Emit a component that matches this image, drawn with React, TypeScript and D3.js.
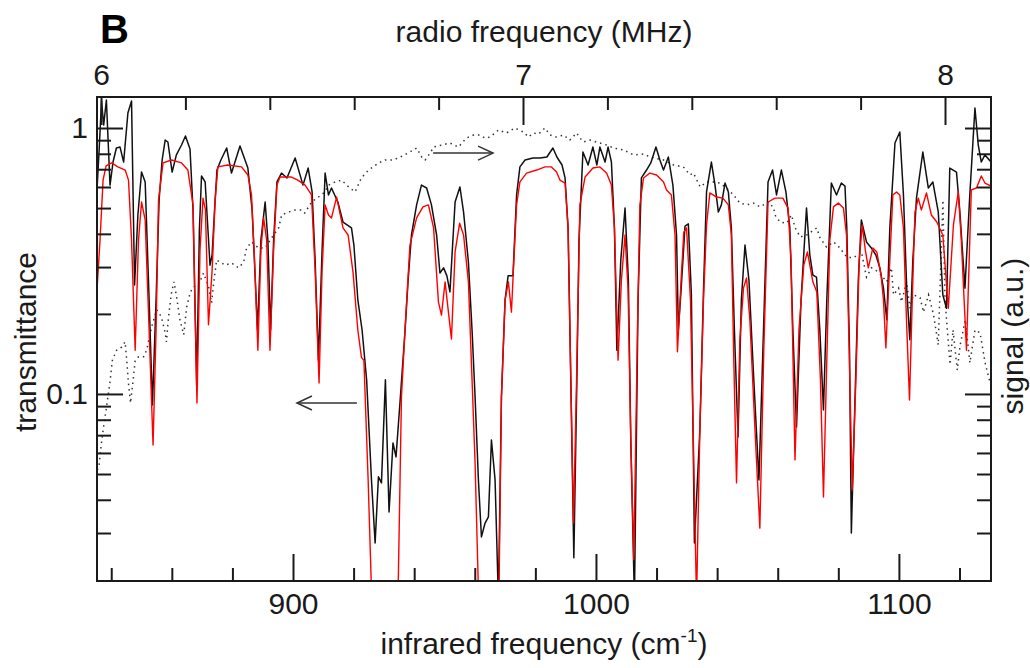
import React, { useRef, useEffect } from 'react';
import * as d3 from 'd3';

// measured transmittance (black): [wavenumber cm^-1, transmittance]
const measured: [number, number][] = [
  [835.3,0.585],[836.0,0.827],[836.8,1.263],[837.5,1.026],[838.4,1.274],[839.6,0.610],[840.6,0.745],[841.7,0.841],[842.9,0.848],[844.1,0.745],
  [845.5,1.139],[846.7,1.263],[847.7,0.257],[848.8,0.471],[850.0,0.683],[851.2,0.627],[852.5,0.226],[853.6,0.0909],[854.8,0.226],[855.8,0.536],
  [856.8,0.758],[857.8,0.901],[858.7,0.886],[860.1,0.683],[861.5,0.792],[863.2,0.863],[864.5,0.933],[866.0,0.834],[867.0,0.492],[868.2,0.108],
  [869.1,0.414],[869.8,0.660],[871.0,0.627],[872.6,0.305],[873.3,0.333],[874.1,0.492],[874.9,0.695],[876.2,0.758],[878.1,0.841],[879.7,0.677],
  [882.5,0.856],[885.1,0.707],[886.5,0.492],[888.3,0.174],[889.4,0.379],[890.8,0.527],[891.7,0.379],[892.6,0.174],[893.6,0.379],[894.7,0.627],
  [896.2,0.677],[898.0,0.649],[900.7,0.771],[903.3,0.610],[905.0,0.707],[906.3,0.575],[907.3,0.319],[908.4,0.134],[909.6,0.348],[910.6,0.677],
  [911.7,0.560],[912.7,0.595],[914.8,0.527],[916.5,0.443],[919.3,0.421],[920.1,0.363],[921.4,0.226],[922.8,0.174],[924.3,0.113],[925.9,0.0475],
  [927.1,0.0275],[928.2,0.0488],[929.2,0.0463],[930.5,0.113],[931.7,0.0360],[933.0,0.0654],[934.0,0.0580],[935.3,0.0925],[937.0,0.174],[938.0,0.268],
  [939.1,0.396],[940.8,0.514],[942.4,0.610],[944.1,0.595],[945.7,0.514],[947.4,0.396],[948.5,0.285],[949.7,0.298],[950.8,0.278],[951.8,0.242],
  [953.5,0.527],[955.1,0.600],[956.3,0.483],[957.9,0.313],[959.1,0.174],[960.1,0.0974],[961.2,0.0475],[962.2,0.0290],[963.4,0.0327],[964.5,0.0345],
  [965.5,0.0671],[966.7,0.0475],[967.8,0.0168],[968.8,0.0974],[970.0,0.226],[971.0,0.278],[972.6,0.278],[973.8,0.560],[974.9,0.714],[976.6,0.758],
  [979.2,0.771],[981.5,0.771],[983.8,0.778],[985.8,0.841],[987.1,0.778],[988.8,0.726],[989.8,0.649],[990.8,0.421],[991.7,0.113],[992.7,0.0242],
  [993.7,0.113],[994.4,0.379],[995.7,0.812],[997.4,0.726],[999.0,0.848],[1000.3,0.726],[1001.3,0.848],[1003.0,0.745],[1004.0,0.848],[1005.1,0.745],
  [1006.1,0.421],[1006.9,0.146],[1008.2,0.319],[1009.6,0.500],[1010.7,0.268],[1011.5,0.0671],[1012.7,0.0168],[1013.9,0.226],[1015.0,0.649],[1016.7,0.695],
  [1018.1,0.739],[1019.8,0.848],[1021.1,0.758],[1022.3,0.695],[1023.9,0.778],[1025.4,0.610],[1026.6,0.396],[1027.2,0.174],[1028.1,0.246],[1029.4,0.428],
  [1030.5,0.436],[1031.5,0.236],[1032.5,0.0275],[1034.3,0.0732],[1035.5,0.246],[1036.5,0.575],[1038.1,0.745],[1039.3,0.610],[1040.4,0.483],[1041.4,0.514],
  [1042.6,0.621],[1043.7,0.575],[1044.7,0.421],[1045.7,0.174],[1046.9,0.0689],[1048.0,0.226],[1049.2,0.363],[1050.5,0.268],[1052.1,0.113],[1053.8,0.0475],
  [1055.1,0.146],[1056.8,0.627],[1058.3,0.695],[1059.6,0.560],[1061.2,0.695],[1062.7,0.575],[1064.0,0.421],[1065.0,0.174],[1066.2,0.0751],[1067.7,0.226],
  [1069.5,0.500],[1070.6,0.333],[1071.6,0.280],[1072.8,0.275],[1073.9,0.174],[1075.1,0.0871],[1076.2,0.226],[1077.7,0.621],[1079.4,0.560],[1081.0,0.621],
  [1082.2,0.605],[1082.8,0.421],[1083.7,0.146],[1084.3,0.0300],[1085.5,0.0949],[1086.6,0.268],[1087.6,0.451],[1089.3,0.373],[1090.9,0.354],[1092.4,0.333],
  [1093.7,0.298],[1094.9,0.250],[1096.0,0.190],[1097.0,0.421],[1098.7,0.878],[1100.3,0.966],[1101.5,0.560],[1102.6,0.246],[1103.6,0.160],[1104.6,0.319],
  [1105.8,0.545],[1107.9,0.812],[1109.7,0.595],[1111.2,0.627],[1113.0,0.483],[1114.5,0.236],[1115.7,0.210],[1116.8,0.707],[1119.0,0.683],[1120.1,0.488],
  [1121.8,0.250],[1123.4,0.560],[1125.1,1.189],[1126.2,0.863],[1127.2,0.745],[1128.4,0.792],[1130.4,0.745],
];

// simulated transmittance (red): [wavenumber cm^-1, transmittance]
const simulated: [number, number][] = [
  [835.3,0.246],[836.3,0.379],[837.3,0.637],[838.3,0.720],[840.1,0.739],[842.2,0.714],[844.6,0.695],[845.7,0.637],[846.7,0.379],[847.9,0.146],
  [849.0,0.379],[850.0,0.527],[851.2,0.451],[852.5,0.174],[853.8,0.0643],[854.8,0.174],[855.6,0.536],[857.1,0.739],[859.9,0.758],[863.2,0.739],
  [865.3,0.695],[867.0,0.514],[868.3,0.0925],[869.3,0.348],[870.3,0.545],[871.1,0.492],[872.1,0.182],[873.3,0.292],[874.3,0.536],[875.2,0.714],
  [878.5,0.726],[883.0,0.714],[885.1,0.666],[886.3,0.560],[887.3,0.319],[888.4,0.146],[889.4,0.348],[890.3,0.459],[891.3,0.379],[892.4,0.146],
  [893.6,0.348],[894.7,0.610],[895.7,0.654],[899.5,0.654],[901.6,0.637],[904.0,0.610],[906.1,0.560],[907.3,0.292],[908.6,0.110],[909.6,0.292],
  [910.6,0.514],[911.7,0.471],[912.7,0.459],[914.4,0.550],[916.5,0.421],[918.2,0.396],[919.8,0.287],[921.4,0.174],[922.6,0.137],[923.4,0.134],
  [924.8,0.0475],[925.9,0.0183],[930.4,0.0109],[934.7,0.0183],[935.8,0.0974],[937.0,0.177],[938.6,0.363],[940.8,0.459],[942.9,0.505],[944.7,0.514],
  [946.4,0.421],[948.0,0.222],[949.0,0.198],[950.2,0.264],[951.3,0.203],[952.3,0.161],[953.5,0.342],[955.0,0.439],[956.3,0.396],[957.9,0.264],
  [959.1,0.113],[960.1,0.0550],[961.2,0.0183],[964.7,0.0109],[968.0,0.0183],[968.8,0.0974],[970.0,0.226],[971.1,0.264],[972.1,0.203],[972.9,0.319],
  [973.8,0.514],[974.9,0.627],[977.1,0.677],[980.4,0.695],[983.2,0.714],[985.3,0.714],[987.0,0.683],[988.1,0.637],[989.8,0.621],[990.8,0.421],
  [991.7,0.113],[992.6,0.0327],[993.6,0.113],[994.7,0.514],[996.4,0.654],[999.0,0.707],[1001.3,0.714],[1003.5,0.677],[1005.1,0.610],[1006.1,0.421],
  [1007.3,0.134],[1008.4,0.268],[1009.6,0.396],[1010.6,0.246],[1011.5,0.0671],[1012.5,0.0238],[1013.7,0.174],[1014.5,0.514],[1015.7,0.649],[1017.8,0.677],
  [1020.0,0.666],[1022.3,0.627],[1023.3,0.585],[1024.9,0.560],[1026.1,0.396],[1026.9,0.144],[1028.1,0.268],[1029.0,0.406],[1029.9,0.421],[1031.2,0.226],
  [1032.2,0.0616],[1033.2,0.0168],[1034.3,0.0732],[1035.5,0.226],[1036.5,0.432],[1037.6,0.570],[1039.8,0.550],[1041.9,0.545],[1043.7,0.514],[1044.7,0.396],
  [1045.5,0.134],[1046.4,0.0463],[1047.5,0.160],[1048.7,0.250],[1049.7,0.273],[1050.8,0.190],[1052.5,0.0732],[1054.1,0.0313],[1055.4,0.146],[1056.8,0.527],
  [1059.1,0.545],[1061.7,0.545],[1063.4,0.500],[1064.4,0.319],[1065.7,0.0565],[1067.0,0.174],[1068.6,0.305],[1069.8,0.342],[1071.6,0.264],[1072.9,0.242],
  [1074.1,0.113],[1075.1,0.0410],[1076.2,0.134],[1077.2,0.379],[1078.4,0.505],[1080.0,0.522],[1081.7,0.500],[1082.7,0.396],[1083.8,0.113],[1084.6,0.0436],
  [1085.8,0.113],[1086.9,0.319],[1087.9,0.432],[1088.9,0.348],[1089.9,0.298],[1091.4,0.354],[1092.7,0.342],[1094.1,0.280],[1094.9,0.226],[1095.7,0.149],
  [1096.7,0.268],[1098.0,0.560],[1099.2,0.575],[1100.3,0.560],[1101.5,0.421],[1102.5,0.190],[1103.5,0.0949],[1104.5,0.246],[1105.3,0.483],[1106.4,0.545],
  [1107.4,0.492],[1109.1,0.570],[1110.7,0.471],[1112.5,0.443],[1114.5,0.396],[1116.3,0.210],[1118.0,0.432],[1119.6,0.575],[1120.6,0.379],[1122.3,0.146],
  [1123.9,0.585],[1125.6,0.595],[1127.2,0.660],[1128.4,0.621],[1130.4,0.605],
];

// rf signal (dotted, top/right axes): [MHz, signal a.u.]
const rfSignal: [number, number][] = [
  [5.991,0.0518],[5.995,0.0532],[6.001,0.0654],[6.006,0.0751],[6.013,0.0894],[6.021,0.110],[6.027,0.134],[6.037,0.146],[6.049,0.150],[6.057,0.157],
  [6.061,0.134],[6.065,0.110],[6.070,0.0925],[6.077,0.116],[6.081,0.134],[6.089,0.138],[6.101,0.138],[6.108,0.146],[6.120,0.179],[6.132,0.207],
  [6.143,0.195],[6.152,0.170],[6.155,0.157],[6.160,0.195],[6.167,0.240],[6.173,0.264],[6.179,0.232],[6.187,0.190],[6.196,0.167],[6.203,0.212],
  [6.211,0.240],[6.219,0.253],[6.231,0.257],[6.243,0.285],[6.255,0.253],[6.262,0.220],[6.267,0.261],[6.274,0.319],[6.294,0.305],[6.309,0.311],
  [6.326,0.298],[6.338,0.313],[6.345,0.354],[6.357,0.373],[6.373,0.354],[6.389,0.354],[6.404,0.386],[6.421,0.421],[6.428,0.471],[6.444,0.483],
  [6.460,0.492],[6.475,0.492],[6.483,0.479],[6.499,0.527],[6.515,0.550],[6.531,0.575],[6.539,0.610],[6.555,0.627],[6.570,0.637],[6.587,0.600],
  [6.602,0.575],[6.617,0.649],[6.634,0.695],[6.658,0.739],[6.673,0.758],[6.693,0.758],[6.709,0.778],[6.732,0.812],[6.748,0.841],[6.760,0.778],
  [6.768,0.758],[6.780,0.805],[6.788,0.848],[6.807,0.863],[6.827,0.878],[6.847,0.848],[6.866,0.917],[6.883,0.941],[6.898,0.941],[6.910,0.917],
  [6.922,0.925],[6.942,0.983],[6.961,0.958],[6.981,1.000],[7.001,0.966],[7.013,0.925],[7.025,0.958],[7.037,0.949],[7.052,1.000],[7.064,0.941],
  [7.079,0.925],[7.096,0.941],[7.111,0.901],[7.127,0.958],[7.135,0.917],[7.143,0.886],[7.159,0.901],[7.174,0.886],[7.198,0.863],[7.215,0.841],
  [7.238,0.827],[7.262,0.792],[7.286,0.798],[7.301,0.778],[7.333,0.758],[7.357,0.726],[7.380,0.714],[7.396,0.666],[7.404,0.677],[7.420,0.600],
  [7.435,0.627],[7.452,0.627],[7.467,0.621],[7.482,0.595],[7.499,0.560],[7.514,0.522],[7.530,0.514],[7.546,0.522],[7.562,0.505],[7.582,0.527],
  [7.594,0.500],[7.597,0.471],[7.609,0.443],[7.625,0.439],[7.636,0.471],[7.645,0.421],[7.657,0.389],[7.672,0.396],[7.696,0.421],[7.704,0.386],
  [7.719,0.357],[7.736,0.373],[7.751,0.354],[7.767,0.327],[7.783,0.325],[7.802,0.342],[7.814,0.275],[7.826,0.298],[7.843,0.287],[7.862,0.264],
  [7.873,0.298],[7.878,0.236],[7.890,0.250],[7.897,0.222],[7.909,0.264],[7.917,0.210],[7.925,0.236],[7.941,0.230],[7.949,0.203],[7.961,0.236],
  [7.973,0.198],[7.984,0.153],[7.995,0.536],[8.000,0.226],[8.012,0.129],[8.019,0.174],[8.029,0.123],[8.036,0.153],[8.048,0.190],[8.059,0.131],
  [8.071,0.174],[8.083,0.170],[8.095,0.131],[8.107,0.110],
];

const irMajorTicks = [900, 1000, 1100];
const irMinorTicks = [840, 860, 880, 920, 940, 960, 980, 1020, 1040, 1060, 1080, 1120];
const rfMajorTicks = [6, 7, 8];
const rfMinorTicks = [6.2, 6.4, 6.6, 6.8, 7.2, 7.4, 7.6, 7.8];
const logMajorTicks = [0.1, 1];
const logMinorTicks = [0.03, 0.04, 0.05, 0.06, 0.07, 0.08, 0.09, 0.2, 0.3, 0.4, 0.5, 0.6, 0.7, 0.8, 0.9];

// arrows pointing each curve to its axis
const irArrow = { from: [921.1, 0.0925], to: [901.3, 0.0925] };
const rfArrow = { from: [6.787, 0.805], to: [6.929, 0.805] };

const W = 1030;
const H = 668;
const FONT = '"Liberation Sans", Arial, Helvetica, sans-serif';
const INK = '#1a1a1a';

export default function App() {
  const svgRef = useRef<SVGSVGElement>(null);

  useEffect(() => {
    document.body.style.margin = '0';
    const svg = d3.select(svgRef.current);
    svg.selectAll('*').remove();

    const left = 97, right = 991, top = 97, bottom = 581;

    const xIr = d3.scaleLinear().domain([835.3, 1130.4]).range([left, right]);
    const xRf = d3.scaleLinear().domain([5.9905, 8.109]).range([left, right]);
    const y = d3.scaleLog().domain([0.0198, 1.308]).range([bottom, top]);

    svg.append('defs').append('clipPath').attr('id', 'plot-clip')
      .append('rect')
      .attr('x', left).attr('y', top)
      .attr('width', right - left).attr('height', bottom - top);

    const plot = svg.append('g').attr('clip-path', 'url(#plot-clip)');

    // rf signal, dotted
    const rfLine = d3.line<[number, number]>()
      .x(d => xRf(d[0]))
      .y(d => y(d[1]));
    plot.append('path')
      .attr('d', rfLine(rfSignal))
      .attr('fill', 'none')
      .attr('stroke', '#333')
      .attr('stroke-width', 1.5)
      .attr('stroke-dasharray', '1.5 4');

    const irLine = d3.line<[number, number]>()
      .x(d => xIr(d[0]))
      .y(d => y(d[1]));

    plot.append('path')
      .attr('d', irLine(measured))
      .attr('fill', 'none')
      .attr('stroke', '#111')
      .attr('stroke-width', 1.5)
      .attr('stroke-linejoin', 'round');

    plot.append('path')
      .attr('d', irLine(simulated))
      .attr('fill', 'none')
      .attr('stroke', '#ff0000')
      .attr('stroke-width', 1.4)
      .attr('stroke-linejoin', 'round');

    // arrows
    const drawArrow = (x1: number, y1: number, x2: number, y2: number) => {
      const g = svg.append('g').attr('stroke', '#333').attr('stroke-width', 1.5).attr('fill', 'none');
      g.append('line').attr('x1', x1).attr('y1', y1).attr('x2', x2).attr('y2', y2);
      const dir = Math.sign(x2 - x1);
      g.append('polyline')
        .attr('points', `${x2 - dir * 15},${y2 - 7} ${x2},${y2} ${x2 - dir * 15},${y2 + 7}`);
    };
    drawArrow(xIr(irArrow.from[0]), y(irArrow.from[1]), xIr(irArrow.to[0]), y(irArrow.to[1]));
    drawArrow(xRf(rfArrow.from[0]), y(rfArrow.from[1]), xRf(rfArrow.to[0]), y(rfArrow.to[1]));

    // axes: ticks point inward
    const styleAxis = (g: d3.Selection<SVGGElement, unknown, null, undefined>) => {
      g.select('.domain').remove();
      g.attr('color', INK).attr('font-family', FONT).attr('font-size', 30);
      g.selectAll('.tick line').attr('stroke-width', 2);
    };
    const blank = () => '';

    svg.append('g').attr('transform', `translate(0,${bottom})`)
      .call(d3.axisBottom(xIr).tickValues(irMajorTicks).tickSize(-27).tickPadding(12).tickFormat(d3.format('d')))
      .call(styleAxis);
    svg.append('g').attr('transform', `translate(0,${bottom})`)
      .call(d3.axisBottom(xIr).tickValues(irMinorTicks).tickSize(-13).tickFormat(blank))
      .call(styleAxis);

    svg.append('g').attr('transform', `translate(0,${top})`)
      .call(d3.axisTop(xRf).tickValues(rfMajorTicks).tickSize(-28).tickPadding(12).tickFormat(d3.format('d')))
      .call(styleAxis);
    svg.append('g').attr('transform', `translate(0,${top})`)
      .call(d3.axisTop(xRf).tickValues(rfMinorTicks).tickSize(-13).tickFormat(blank))
      .call(styleAxis);

    svg.append('g').attr('transform', `translate(${left},0)`)
      .call(d3.axisLeft(y).tickValues(logMajorTicks).tickSize(-26).tickPadding(9).tickFormat(d => String(d)))
      .call(styleAxis);
    svg.append('g').attr('transform', `translate(${left},0)`)
      .call(d3.axisLeft(y).tickValues(logMinorTicks).tickSize(-14).tickFormat(blank))
      .call(styleAxis);

    svg.append('g').attr('transform', `translate(${right},0)`)
      .call(d3.axisRight(y).tickValues(logMajorTicks).tickSize(-26).tickFormat(blank))
      .call(styleAxis);
    svg.append('g').attr('transform', `translate(${right},0)`)
      .call(d3.axisRight(y).tickValues(logMinorTicks).tickSize(-14).tickFormat(blank))
      .call(styleAxis);

    // frame
    svg.append('rect')
      .attr('x', left).attr('y', top)
      .attr('width', right - left).attr('height', bottom - top)
      .attr('fill', 'none')
      .attr('stroke', INK)
      .attr('stroke-width', 2);

    // titles
    const cx = (left + right) / 2;
    svg.append('text')
      .attr('x', 100).attr('y', 43)
      .attr('font-family', FONT).attr('font-weight', 'bold').attr('font-size', 40)
      .attr('fill', '#000')
      .text('B');

    svg.append('text')
      .attr('x', cx).attr('y', 42)
      .attr('text-anchor', 'middle')
      .attr('font-family', FONT).attr('font-size', 30).attr('fill', INK)
      .text('radio frequency (MHz)');

    const irTitle = svg.append('text')
      .attr('x', cx).attr('y', 654)
      .attr('text-anchor', 'middle')
      .attr('font-family', FONT).attr('font-size', 30).attr('fill', INK);
    irTitle.append('tspan').text('infrared frequency (cm');
    irTitle.append('tspan').attr('font-size', 19).attr('dy', -12).text('-1');
    irTitle.append('tspan').attr('dy', 12).text(')');

    svg.append('text')
      .attr('transform', `translate(36,342) rotate(-90)`)
      .attr('text-anchor', 'middle')
      .attr('font-family', FONT).attr('font-size', 30).attr('fill', INK)
      .text('transmittance');

    svg.append('text')
      .attr('transform', `translate(1023,336) rotate(-90)`)
      .attr('text-anchor', 'middle')
      .attr('font-family', FONT).attr('font-size', 30).attr('fill', INK)
      .text('signal (a.u.)');
  }, []);

  return <svg ref={svgRef} width={W} height={H} style={{ display: 'block', background: '#fff' }} />;
}
